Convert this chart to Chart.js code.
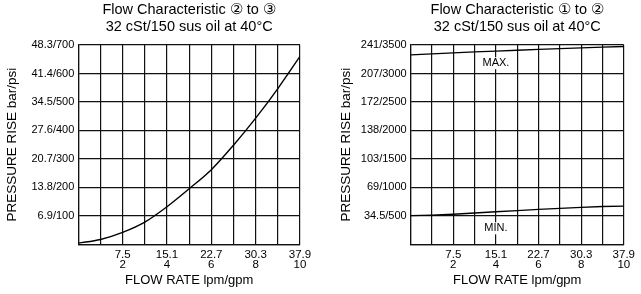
<!DOCTYPE html>
<html><head><meta charset="utf-8">
<script src="https://cdn.jsdelivr.net/npm/chart.js@4.4.1/dist/chart.umd.min.js"></script>
<style>
html,body{margin:0;padding:0;background:#fff;}
#wrap{position:relative;width:641px;height:294px;overflow:hidden;}
canvas{position:absolute;top:0;}
#c1{left:0;} #c2{left:320px;}
</style></head>
<body><div id="wrap"><canvas id="c1" width="320" height="294"></canvas><canvas id="c2" width="321" height="294"></canvas></div>
<script>
// ---- data ----
const flowGpm = [0,1,2,3,4,5,6,7,8,9,10];
const pressure23Psi = [4,17,42,78,132,195,262,348,443,547,660];
const maxPsi12 = [3325,3345,3362,3378,3393,3408,3422,3436,3450,3462,3474];
const minPsi12 = [502,512,528,550,572,592,612,630,648,664,672];
const xTickGpm = [2,4,6,8,10];
const xTickLpm = ['7.5','15.1','22.7','30.3','37.9'];
const yTickPsi23 = [100,200,300,400,500,600,700];
const yTickLabels23 = ['6.9/100','13.8/200','20.7/300','27.6/400','34.5/500','41.4/600','48.3/700'];
const yTickPsi12 = [500,1000,1500,2000,2500,3000,3500];
const yTickLabels12 = ['34.5/500','69/1000','103/1500','138/2000','172/2500','207/3000','241/3500'];
const title23 = ['Flow Characteristic \u2461 to \u2462','32 cSt/150 sus oil at 40\u00B0C'];
const title12 = ['Flow Characteristic \u2460 to \u2461','32 cSt/150 sus oil at 40\u00B0C'];
const xAxisTitle = 'FLOW RATE lpm/gpm';
const yAxisTitle = 'PRESSURE RISE bar/psi';
const notes12 = [{x:4, y:3180, text:'MAX.'},{x:4, y:281, text:'MIN.'}];

const FONT = '"Liberation Sans", Arial, Helvetica, sans-serif';
const NARROW = '"Liberation Sans Narrow", "Liberation Sans", Arial, sans-serif';

const textPlugin = {
  id:'textPlugin',
  afterDraw(chart, args, opts){
    const {ctx, chartArea} = chart;
    ctx.save();
    ctx.fillStyle = '#000';
    ctx.font = '14.5px ' + FONT;
    ctx.textAlign = 'center';
    ctx.textBaseline = 'alphabetic';
    const cx = (chartArea.left + chartArea.right)/2;
    opts.lines.forEach((t,i)=>ctx.fillText(t, cx, opts.baselines[i]));
    (opts.notes||[]).forEach(n=>{
      const x = chart.scales.x.getPixelForValue(n.x);
      const y = chart.scales.y.getPixelForValue(n.y);
      ctx.font = '11px ' + FONT;
      const w = ctx.measureText(n.text).width;
      ctx.fillStyle = '#fff';
      ctx.fillRect(x - w/2 - 2, y - 6, w + 4, 12);
      ctx.fillStyle = '#000';
      ctx.textBaseline = 'middle';
      ctx.fillText(n.text, x, y);
    });
    ctx.restore();
  }
};

function makeChart(id, datasets, yMax, yStep, yTicks, yLabels, titleLines, notes, yAxisWidth, rightPad, yTitlePad){
  const gridStyle = {color:'#111', lineWidth:1.2, drawTicks:false};
  return new Chart(document.getElementById(id), {
    type:'line',
    data:{ labels: flowGpm, datasets },
    plugins:[textPlugin],
    options:{
      responsive:false, animation:false, devicePixelRatio:1,
      layout:{padding:{top:45, right:rightPad, bottom:0, left:0}},
      plugins:{
        legend:{display:false}, tooltip:{enabled:false}, title:{display:false},
        textPlugin:{lines:titleLines, baselines:[13.5,30.5], notes}
      },
      scales:{
        x:{
          type:'linear', min:0, max:10,
          grid:gridStyle, border:{display:true, color:'#111', width:1.2},
          ticks:{
            stepSize:1, autoSkip:false, maxRotation:0, padding:6, color:'#000',
            font:{family:NARROW, size:11.5, lineHeight:0.87},
            callback:(v)=>{ const i = xTickGpm.indexOf(v); return i>=0 ? [xTickLpm[i], String(xTickGpm[i])] : ''; }
          },
          title:{display:true, text:xAxisTitle, color:'#000', font:{family:FONT, size:13, lineHeight:1.2}, padding:{top:0,bottom:6}},
          afterFit:(s)=>{ s.height = 294 - 45 - 199.3; }
        },
        y:{
          type:'linear', min:0, max:yMax,
          grid:gridStyle, border:{display:true, color:'#111', width:1.2},
          ticks:{
            stepSize:yStep, autoSkip:false, padding:4, color:'#000',
            font:{family:FONT, size:11},
            callback:(v)=>{ const i = yTicks.indexOf(v); return i>=0 ? yLabels[i] : ''; }
          },
          title:{display:true, text:yAxisTitle, color:'#000', font:{family:FONT, size:13.5, lineHeight:1.2}, padding:{top:yTitlePad,bottom:0}},
          afterFit:(s)=>{ s.width = yAxisWidth; }
        }
      },
      elements:{point:{radius:0}}
    }
  });
}

makeChart('c1', [{
  data: flowGpm.map((g,i)=>({x:g, y:pressure23Psi[i]})),
  borderColor:'#000', borderWidth:1.4, cubicInterpolationMode:'monotone', fill:false
}], 700, 100, yTickPsi23, yTickLabels23, title23, [], 78.3, 20, 4.6);

makeChart('c2', [{
  data: flowGpm.map((g,i)=>({x:g, y:maxPsi12[i]})),
  borderColor:'#000', borderWidth:1.3, tension:0, fill:false
},{
  data: flowGpm.map((g,i)=>({x:g, y:minPsi12[i]})),
  borderColor:'#000', borderWidth:1.3, tension:0, fill:false
}], 3500, 500, yTickPsi12, yTickLabels12, title12, notes12, 90.7, 8.7, 18.3);
</script>
</body></html>
